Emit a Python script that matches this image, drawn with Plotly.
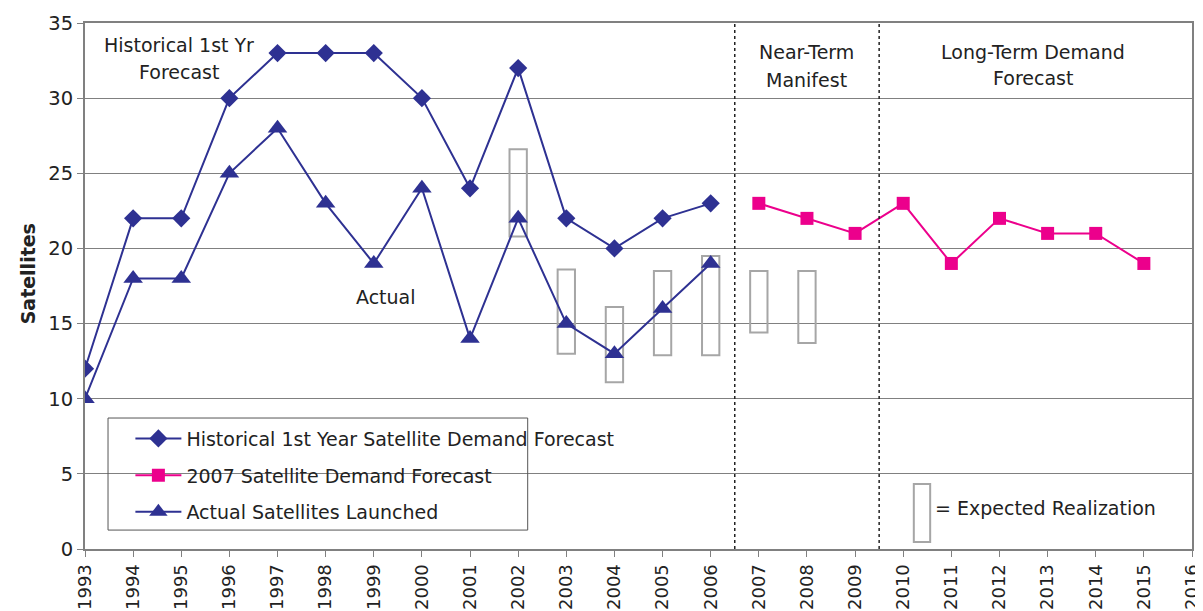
import plotly.graph_objects as go

hist_years = list(range(1993, 2007))
hist_values = [12, 22, 22, 30, 33, 33, 33, 30, 24, 32, 22, 20, 22, 23]

actual_years = list(range(1993, 2007))
actual_values = [10, 18, 18, 25, 28, 23, 19, 24, 14, 22, 15, 13, 16, 19]

fc_years = [2007, 2008, 2009, 2010, 2011, 2012, 2013, 2014, 2015]
fc_values = [23, 22, 21, 23, 19, 22, 21, 21, 19]

box_years = [2002, 2003, 2004, 2005, 2006, 2007, 2008]
box_low = [20.8, 13.0, 11.1, 12.9, 12.9, 14.4, 13.7]
box_high = [26.6, 18.6, 16.1, 18.5, 19.5, 18.5, 18.5]

x_ticks = list(range(1993, 2017))
y_ticks = [0, 5, 10, 15, 20, 25, 30, 35]

NAVY = "#2E3192"
PINK = "#EC008C"
GRAY_BOX = "#A6A6A6"
FONT = "DejaVu Sans"
TXT = "#222222"

fig = go.Figure()
fig.add_trace(go.Scatter(
    x=hist_years, y=hist_values, mode="lines+markers",
    name="Historical 1st Year Satellite Demand Forecast",
    line=dict(color=NAVY, width=2),
    marker=dict(symbol="diamond", size=14, color=NAVY),
    legendgroup="a"))
fig.add_trace(go.Scatter(
    x=fc_years, y=fc_values, mode="lines+markers",
    name="2007 Satellite Demand Forecast",
    line=dict(color=PINK, width=2),
    marker=dict(symbol="square", size=13, color=PINK),
    legendgroup="b"))
fig.add_trace(go.Scatter(
    x=actual_years, y=actual_values, mode="lines+markers",
    name="Actual Satellites Launched",
    line=dict(color=NAVY, width=2),
    marker=dict(symbol="triangle-up", size=17, color=NAVY),
    legendgroup="c"))

half_w = 0.18
for yr, lo, hi in zip(box_years, box_low, box_high):
    fig.add_shape(type="rect", x0=yr - half_w, x1=yr + half_w, y0=lo, y1=hi,
                  xref="x", yref="y", line=dict(color=GRAY_BOX, width=2),
                  fillcolor="rgba(0,0,0,0)", layer="between")

# key box for expected realization
fig.add_shape(type="rect", x0=2010.22, x1=2010.56, y0=0.47, y1=4.33,
              xref="x", yref="y", line=dict(color=GRAY_BOX, width=2),
              fillcolor="rgba(0,0,0,0)", layer="between")

for xv in [2006.5, 2009.5]:
    fig.add_shape(type="line", x0=xv, x1=xv, y0=0, y1=35, xref="x", yref="y",
                  line=dict(color="#222222", width=1.5, dash="dot"), layer="above")

# legend border
fig.add_shape(type="rect", xref="paper", yref="paper",
              x0=0.0208, x1=0.3999, y0=0.036, y1=0.249,
              line=dict(color="#555555", width=1), fillcolor="rgba(0,0,0,0)")

txt = dict(family=FONT, size=19, color=TXT)
notes = [
    (1994.95, 33.53, "Historical 1st Yr"),
    (1994.95, 31.73, "Forecast"),
    (2008.0, 33.07, "Near-Term"),
    (2008.0, 31.2, "Manifest"),
    (2012.7, 33.07, "Long-Term Demand"),
    (2012.7, 31.33, "Forecast"),
    (1999.25, 16.8, "Actual"),
]
for xa, ya, t in notes:
    fig.add_annotation(x=xa, y=ya, text=t, showarrow=False, font=txt)
fig.add_annotation(x=2010.62, y=2.73, text="= Expected Realization",
                   showarrow=False, font=txt, xanchor="left")
fig.add_annotation(xref="paper", yref="paper", x=-0.0515, y=0.524,
                   xanchor="center", yanchor="middle",
                   text="<b>Satellites</b>", textangle=-90, showarrow=False,
                   font=dict(family=FONT, size=19, color=TXT))

fig.update_layout(
    width=1195, height=603,
    margin=dict(l=77, r=11, t=15, b=62),
    paper_bgcolor="white", plot_bgcolor="white",
    font=dict(family=FONT, size=19, color=TXT),
    showlegend=True,
    legend=dict(x=0.041, y=0.246, xanchor="left", yanchor="top",
                bgcolor="rgba(0,0,0,0)", borderwidth=0,
                font=dict(family=FONT, size=19, color=TXT),
                tracegroupgap=9, itemwidth=46),
)
fig.update_xaxes(range=[1993, 2016], tickmode="array", tickvals=x_ticks,
                 ticktext=[str(v) for v in x_ticks], tickangle=-90,
                 showgrid=False, showline=True, linecolor="#808080", linewidth=2,
                 mirror=True, ticks="outside", ticklen=6, tickcolor="#808080",
                 automargin=False, zeroline=False,
                 tickfont=dict(family=FONT, size=18, color=TXT))
fig.update_yaxes(range=[0, 35], tickmode="array", tickvals=y_ticks,
                 showgrid=True, gridcolor="#808080", gridwidth=1,
                 showline=True, linecolor="#808080", linewidth=2, mirror=True,
                 ticks="outside", ticklen=6, tickcolor="#808080",
                 zeroline=False, automargin=False,
                 tickfont=dict(family=FONT, size=19.5, color=TXT))

fig.write_html("out.html")
